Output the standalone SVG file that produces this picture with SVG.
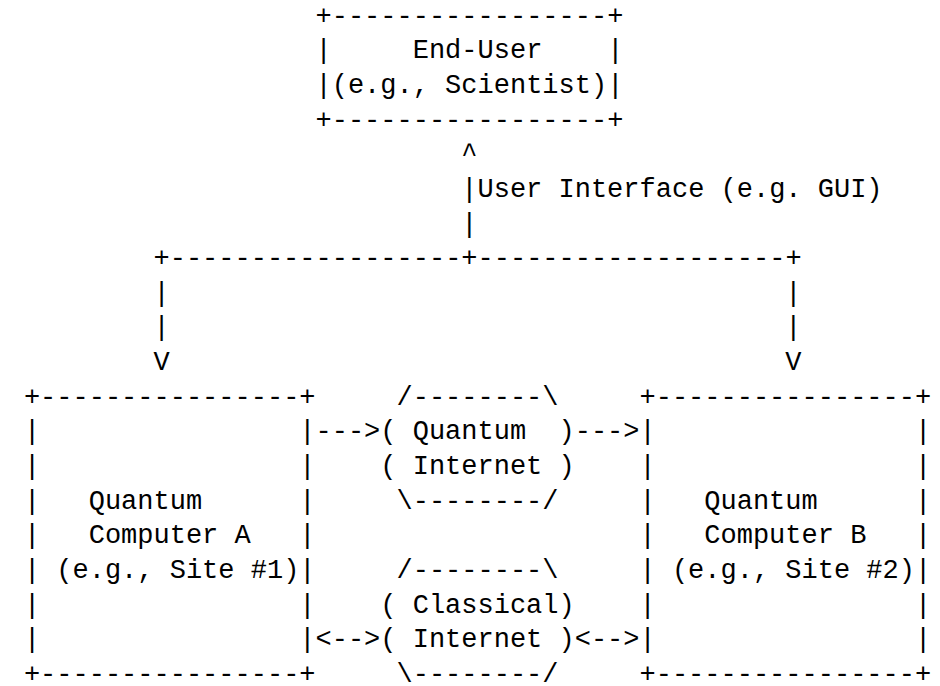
<svg xmlns="http://www.w3.org/2000/svg" width="940" height="686" viewBox="0 0 940 686" xml:space="preserve">
<style>
text { font-family: "Liberation Mono", "DejaVu Sans Mono", monospace; font-size: 27px; fill: #000; white-space: pre; }
</style>
<rect width="940" height="686" fill="#fff"/>
<g id="end-user">
<text x="315.5" y="23.6">+-----------------+</text>
<text x="315.5" y="58.25">|     End-User    |</text>
<text x="315.5" y="92.9">|(e.g., Scientist)|</text>
<text x="315.5" y="127.55">+-----------------+</text>
</g>
<g id="quantum-computer-a">
<text x="23.9" y="404.75">+----------------+</text>
<text x="23.9" y="439.4">|                |</text>
<text x="23.9" y="474.05">|                |</text>
<text x="23.9" y="508.7">|   Quantum      |</text>
<text x="23.9" y="543.35">|   Computer A   |</text>
<text x="23.9" y="578">| (e.g., Site #1)|</text>
<text x="23.9" y="612.65">|                |</text>
<text x="23.9" y="647.3">|                |</text>
<text x="23.9" y="681.95">+----------------+</text>
</g>
<g id="quantum-computer-b">
<text x="639.5" y="404.75">+----------------+</text>
<text x="639.5" y="439.4">|                |</text>
<text x="639.5" y="474.05">|                |</text>
<text x="639.5" y="508.7">|   Quantum      |</text>
<text x="639.5" y="543.35">|   Computer B   |</text>
<text x="639.5" y="578">| (e.g., Site #2)|</text>
<text x="639.5" y="612.65">|                |</text>
<text x="639.5" y="647.3">|                |</text>
<text x="639.5" y="681.95">+----------------+</text>
</g>
<g id="quantum-internet">
<text x="396.5" y="404.75">/--------\</text>
<text x="380.3" y="439.4">( Quantum  )</text>
<text x="380.3" y="474.05">( Internet )</text>
<text x="396.5" y="508.7">\--------/</text>
</g>
<g id="classical-internet">
<text x="396.5" y="578">/--------\</text>
<text x="380.3" y="612.65">( Classical)</text>
<text x="380.3" y="647.3">( Internet )</text>
<text x="396.5" y="681.95">\--------/</text>
</g>
<g id="connectors">
<text x="461.3" y="162.2">^</text>
<text x="461.3" y="196.85">|</text>
<text x="477.5" y="196.85">User Interface (e.g. GUI)</text>
<text x="461.3" y="231.5">|</text>
<text x="153.5" y="266.15">+------------------+-------------------+</text>
<text x="153.5" y="300.8">|</text>
<text x="785.3" y="300.8">|</text>
<text x="153.5" y="335.45">|</text>
<text x="785.3" y="335.45">|</text>
<text x="153.5" y="370.1">V</text>
<text x="785.3" y="370.1">V</text>
<text x="315.5" y="439.4">---&gt;</text>
<text x="574.7" y="439.4">---&gt;</text>
<text x="315.5" y="647.3">&lt;--&gt;</text>
<text x="574.7" y="647.3">&lt;--&gt;</text>
</g>
</svg>
